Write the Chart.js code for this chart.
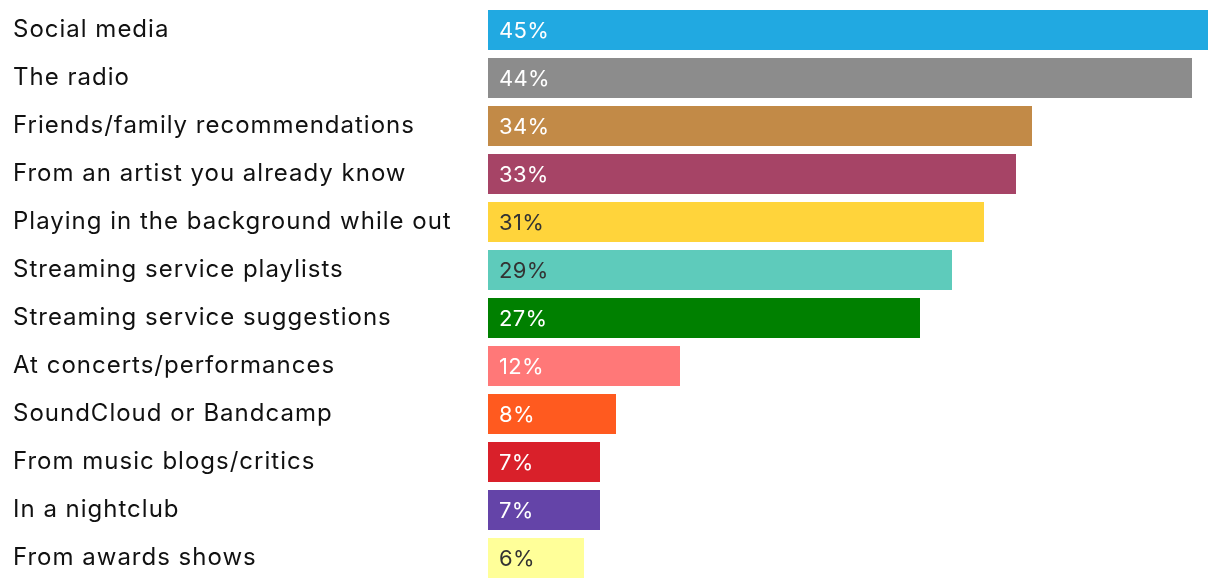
<!DOCTYPE html>
<html>
<head>
<meta charset="utf-8">
<script src="https://cdn.jsdelivr.net/npm/chart.js@4"></script>
<style>
html,body{margin:0;padding:0;background:#fff;}
#wrap{width:1220px;height:588px;position:relative;}
</style>
</head>
<body>
<div id="wrap"><canvas id="c"></canvas></div>
<script>
const categories = [
  "Social media",
  "The radio",
  "Friends/family recommendations",
  "From an artist you already know",
  "Playing in the background while out",
  "Streaming service playlists",
  "Streaming service suggestions",
  "At concerts/performances",
  "SoundCloud or Bandcamp",
  "From music blogs/critics",
  "In a nightclub",
  "From awards shows"
];
const values = [45, 44, 34, 33, 31, 29, 27, 12, 8, 7, 7, 6];
const barColors = ["#21a9e1", "#8c8c8c", "#c28a47", "#a64466", "#ffd43b", "#5ecbbb", "#008000", "#ff7878", "#ff5a1f", "#d9202a", "#6444a8", "#ffff99"];
const valueTextColors = ["#fff", "#fff", "#fff", "#fff", "#333", "#333", "#fff", "#fff", "#fff", "#fff", "#fff", "#333"];

const FONT = "Inter, 'Open Sans', sans-serif";

const spacing = {
  id: 'spacing',
  beforeDraw(chart) {
    chart.ctx.letterSpacing = '1px';
  }
};

const valueLabels = {
  id: 'valueLabels',
  afterDatasetsDraw(chart) {
    const ctx = chart.ctx;
    const meta = chart.getDatasetMeta(0);
    ctx.save();
    ctx.letterSpacing = '0.3px';
    ctx.font = "22px " + FONT;
    ctx.textBaseline = 'middle';
    ctx.textAlign = 'left';
    meta.data.forEach((bar, i) => {
      ctx.fillStyle = valueTextColors[i];
      ctx.fillText(values[i] + '%', bar.base + 11, bar.y + 1);
    });
    ctx.restore();
  }
};

new Chart(document.getElementById('c'), {
  type: 'bar',
  data: {
    labels: categories,
    datasets: [{
      data: values,
      backgroundColor: barColors,
      borderWidth: 0,
      categoryPercentage: 1,
      barPercentage: 40/48
    }]
  },
  options: {
    indexAxis: 'y',
    responsive: true,
    maintainAspectRatio: false,
    animation: false,
    layout: { padding: { left: 13, right: 12, top: 6, bottom: 6 } },
    plugins: { legend: { display: false }, tooltip: { enabled: false } },
    scales: {
      x: { min: 0, max: 45, display: false },
      y: {
        grid: { display: false },
        border: { display: false },
        ticks: {
          crossAlign: 'far',
          color: '#111',
          padding: 0,
          font: { family: FONT, size: 24, lineHeight: 0.4 },
          autoSkip: false
        },
        afterFit(scale) { scale.width = 475; }
      }
    }
  },
  plugins: [spacing, valueLabels]
});
</script>
</body>
</html>
